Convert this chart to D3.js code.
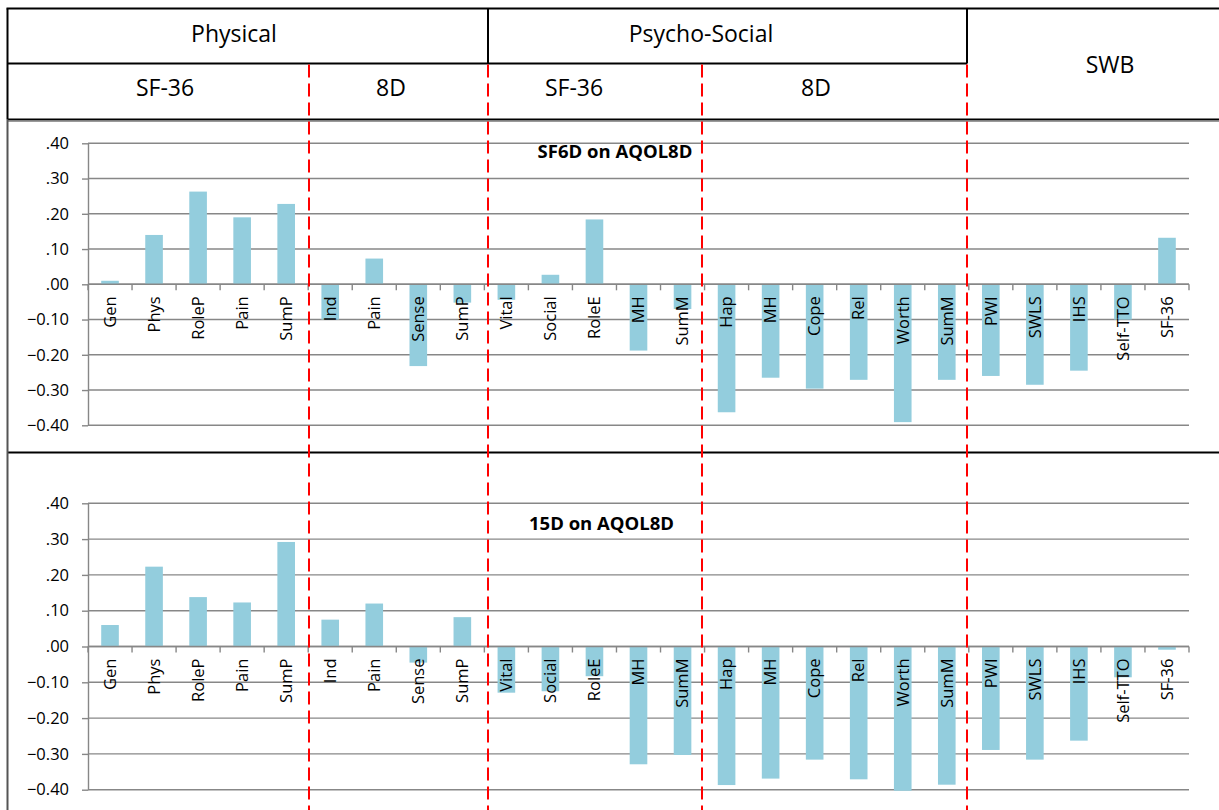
<!DOCTYPE html>
<html>
<head>
<meta charset="utf-8">
<script src="https://cdn.jsdelivr.net/npm/d3@7"></script>
<style>
  html, body { margin: 0; padding: 0; background: #fff; overflow: hidden; }
  svg { display: block; font-family: "Open Sans", "Noto Sans", sans-serif; }
</style>
</head>
<body>
<svg id="chart" width="1219" height="810"></svg>
<script>
// ---- data ----
const categories = ["Gen", "Phys", "RoleP", "Pain", "SumP",
                    "Ind", "Pain", "Sense", "SumP",
                    "Vital", "Social", "RoleE", "MH", "SumM",
                    "Hap", "MH", "Cope", "Rel", "Worth", "SumM",
                    "PWI", "SWLS", "IHS", "Self-TTO", "SF-36"];
const sf6dOnAqol8d = [0.010, 0.140, 0.263, 0.190, 0.228,
                      -0.100, 0.073, -0.232, -0.052,
                      -0.044, 0.027, 0.184, -0.188, -0.070,
                      -0.363, -0.265, -0.296, -0.271, -0.391, -0.271,
                      -0.260, -0.285, -0.245, -0.100, 0.132];
const d15OnAqol8d = [0.060, 0.223, 0.138, 0.123, 0.292,
                     0.075, 0.120, -0.045, 0.082,
                     -0.129, -0.125, -0.083, -0.329, -0.303,
                     -0.387, -0.369, -0.316, -0.371, -0.403, -0.386,
                     -0.289, -0.316, -0.263, -0.086, -0.009];
const yTicks = [-0.4, -0.3, -0.2, -0.1, 0, 0.1, 0.2, 0.3, 0.4];
const groupLabels = ["Physical", "Psycho-Social", "SWB"];
const subgroupLabels = ["SF-36", "8D", "SF-36", "8D"];
const panelTitles = ["SF6D on AQOL8D", "15D on AQOL8D"];

// ---- layout ----
const W = 1219, H = 810;
const frameX = 7.5, frameTop = 8.5, row1Y = 63.5, row2Y = 119.5, dividerY = 452.5;
const columnX = [309, 488, 702, 967];          // dashed separators
const plotLeft = 88, plotRight = 1189;
const groupPos = [[234, 34], [701, 34], [1110, 65]];
const subgroupPos = [[165, 88], [391, 88], [574, 88], [816, 88]];
const panels = [
  { values: sf6dOnAqol8d, top: 143.3, bottom: 425.3, title: panelTitles[0], titlePos: [615, 152] },
  { values: d15OnAqol8d,  top: 503.3, bottom: 789.7, title: panelTitles[1], titlePos: [601.5, 524] }
];

const gridColor = "#878787";
const barColor = "#93CDDD";

const svg = d3.select("#chart");

const x = d3.scaleBand()
  .domain(d3.range(categories.length))
  .range([plotLeft, plotRight])
  .paddingInner(0.6)
  .paddingOuter(0.3);

const halfGap = (x.step() - x.bandwidth()) / 2;
const boundaries = d3.range(categories.length + 1)
  .map(i => i < categories.length ? x(i) - halfGap : x(i - 1) + x.bandwidth() + halfGap);

const fmt = v => d3.format(".2f")(v).replace(/^(-?)0\./, "$1.");

panels.forEach(p => {
  const y = d3.scaleLinear().domain([-0.4, 0.4]).range([p.bottom, p.top]);
  const g = svg.append("g");

  // horizontal gridlines (behind bars)
  g.append("g").selectAll("line").data(yTicks).join("line")
    .attr("x1", plotLeft).attr("x2", plotRight)
    .attr("y1", d => y(d)).attr("y2", d => y(d))
    .attr("stroke", gridColor).attr("stroke-width", 1.4);

  // bars
  g.append("g").selectAll("rect").data(p.values).join("rect")
    .attr("x", (d, i) => x(i))
    .attr("width", x.bandwidth())
    .attr("y", d => y(Math.max(0, d)))
    .attr("height", d => Math.abs(y(d) - y(0)))
    .attr("fill", barColor);

  // value axis
  const yAxis = g.append("g")
    .attr("transform", `translate(${plotLeft},0)`)
    .call(d3.axisLeft(y).tickValues(yTicks).tickFormat(fmt)
      .tickSize(6).tickSizeOuter(0).tickPadding(13));
  yAxis.select(".domain").attr("stroke", gridColor).attr("stroke-width", 1.4);
  yAxis.selectAll(".tick line").attr("stroke", gridColor).attr("stroke-width", 1.4);
  yAxis.selectAll(".tick text")
    .attr("fill", "#000").style("font-size", "16.5px")
    .style("font-family", "'Open Sans', sans-serif");

  // category axis line and boundary ticks
  g.append("line")
    .attr("x1", plotLeft).attr("x2", plotRight)
    .attr("y1", y(0)).attr("y2", y(0))
    .attr("stroke", gridColor).attr("stroke-width", 1.4);
  g.append("g").selectAll("line").data(boundaries).join("line")
    .attr("x1", d => d).attr("x2", d => d)
    .attr("y1", y(0)).attr("y2", y(0) + 6)
    .attr("stroke", gridColor).attr("stroke-width", 1.4);

  // rotated category labels
  g.append("g").selectAll("text").data(categories).join("text")
    .attr("transform", (d, i) => `translate(${x(i) + x.bandwidth() / 2},${y(0) + 12}) rotate(-90)`)
    .attr("text-anchor", "end")
    .attr("dy", "0.35em")
    .style("font-size", "16.5px")
    .attr("fill", "#000")
    .text(d => d);

  // panel title
  g.append("text")
    .attr("x", p.titlePos[0]).attr("y", p.titlePos[1])
    .attr("dy", "0.35em")
    .attr("text-anchor", "middle")
    .style("font-size", "18.5px").style("font-weight", "bold")
    .attr("fill", "#000")
    .text(p.title);
});

// ---- header table and frame ----
const frame = svg.append("g");
const hline = (y, x1, x2, color, w) => frame.append("line")
  .attr("x1", x1).attr("x2", x2).attr("y1", y).attr("y2", y)
  .attr("stroke", color).attr("stroke-width", w);
const vline = (xv, y1, y2, color, w) => frame.append("line")
  .attr("x1", xv).attr("x2", xv).attr("y1", y1).attr("y2", y2)
  .attr("stroke", color).attr("stroke-width", w);

hline(frameTop, frameX - 1, W, "#000", 2);
hline(row1Y, frameX, columnX[3], "#000", 2);
hline(row2Y, frameX, W, "#000", 2);
hline(row2Y + 2, frameX, W, "#9a9a9a", 1);
hline(dividerY, frameX, W, "#000", 2);
vline(frameX, frameTop, row2Y, "#000", 2);
vline(frameX, row2Y, H, "#555", 2);
vline(columnX[1], frameTop, row1Y, "#000", 2);
vline(columnX[3], frameTop, row1Y, "#000", 2);

// dashed red separators
frame.append("g").selectAll("line").data(columnX).join("line")
  .attr("x1", d => d).attr("x2", d => d)
  .attr("y1", row1Y + 1).attr("y2", H)
  .attr("stroke", "#FF0000").attr("stroke-width", 2)
  .attr("stroke-dasharray", "13,6");

frame.append("g").selectAll("text").data(groupLabels).join("text")
  .attr("x", (d, i) => groupPos[i][0]).attr("y", (d, i) => groupPos[i][1])
  .attr("dy", "0.35em").attr("text-anchor", "middle")
  .style("font-size", "23px").attr("fill", "#000")
  .text(d => d);

frame.append("g").selectAll("text").data(subgroupLabels).join("text")
  .attr("x", (d, i) => subgroupPos[i][0]).attr("y", (d, i) => subgroupPos[i][1])
  .attr("dy", "0.35em").attr("text-anchor", "middle")
  .style("font-size", "23px").attr("fill", "#000")
  .text(d => d);
</script>
</body>
</html>
